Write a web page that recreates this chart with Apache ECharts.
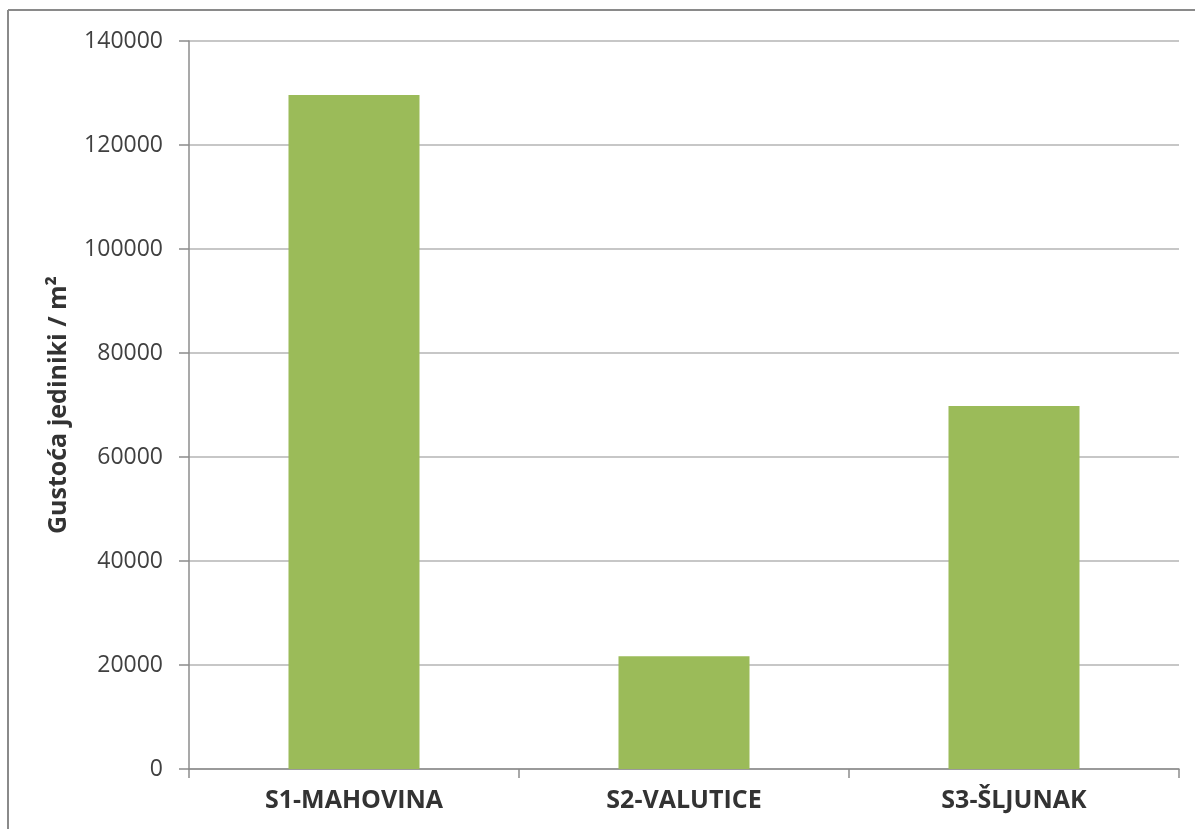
<!DOCTYPE html>
<html><head><meta charset="utf-8">
<script src="https://cdn.jsdelivr.net/npm/echarts@6/dist/echarts.min.js"></script>
<style>html,body{margin:0;padding:0;background:#fff;}#c{width:1195px;height:829px;}</style>
</head><body><div id="c"></div>
<script>
const categories = ['S1-MAHOVINA', 'S2-VALUTICE', 'S3-ŠLJUNAK'];
const values = [129600, 21700, 69800];
const yTicks = { min: 0, max: 140000, interval: 20000 };
const yName = 'Gustoća jediniki / m²';

const chart = echarts.init(document.getElementById('c'));
chart.setOption({
  animation: false,
  backgroundColor: '#fff',
  textStyle: { fontFamily: 'Open Sans' },
  graphic: [
    { type: 'line', shape: { x1: 8, y1: 10, x2: 1195, y2: 10 }, style: { stroke: '#8a8a8a', lineWidth: 2 } },
    { type: 'line', shape: { x1: 8, y1: 10, x2: 8, y2: 829 }, style: { stroke: '#8a8a8a', lineWidth: 2 } }
  ],
  grid: { left: 189, right: 16, top: 41, bottom: 60 },
  xAxis: {
    type: 'category',
    data: categories,
    axisLine: { lineStyle: { color: '#8c8c8c', width: 1.5 } },
    axisTick: { show: true, alignWithLabel: false, length: 9, lineStyle: { color: '#8c8c8c', width: 1.5 } },
    axisLabel: { color: '#333', fontWeight: 'bold', fontSize: 25, margin: 19 }
  },
  yAxis: {
    type: 'value',
    min: yTicks.min, max: yTicks.max, interval: yTicks.interval,
    name: yName,
    nameLocation: 'middle',
    nameGap: 118,
    nameTextStyle: { color: '#333', fontWeight: 'bold', fontSize: 25 },
    axisLine: { show: true, lineStyle: { color: '#8c8c8c', width: 1.5 } },
    axisTick: { show: true, length: 10, lineStyle: { color: '#8c8c8c', width: 1.5 } },
    axisLabel: { color: '#404040', fontSize: 23, margin: 26, formatter: v => String(v) },
    splitLine: { show: true, lineStyle: { color: '#b4b4b4', width: 1.5 } }
  },
  series: [{
    type: 'bar',
    data: values,
    barWidth: '39.7%',
    itemStyle: { color: '#9bbb59' }
  }]
});
</script></body></html>
